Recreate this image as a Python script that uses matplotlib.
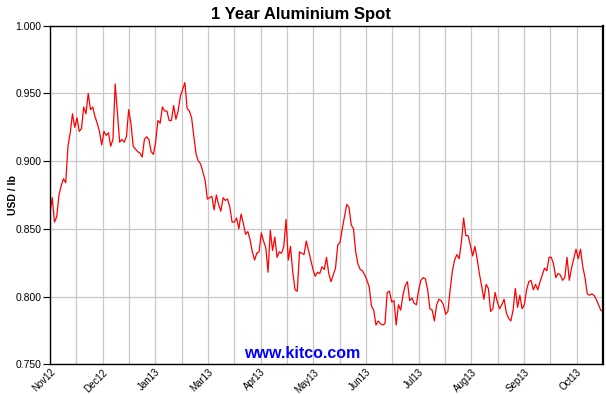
import numpy as np
import matplotlib.pyplot as plt

plt.rcParams["font.family"] = ["Liberation Sans", "DejaVu Sans"]

# daily spot price, USD/lb
prices = [
    0.862, 0.873, 0.855, 0.859, 0.875, 0.882, 0.887, 0.884, 0.911, 0.921,
    0.935, 0.925, 0.932, 0.922, 0.924, 0.940, 0.935, 0.950, 0.938, 0.940,
    0.933, 0.928, 0.922, 0.912, 0.922, 0.919, 0.921, 0.911, 0.916, 0.957,
    0.935, 0.914, 0.916, 0.914, 0.918, 0.938, 0.928, 0.911, 0.909, 0.907,
    0.906, 0.903, 0.916, 0.918, 0.916, 0.907, 0.905, 0.914, 0.930, 0.928,
    0.940, 0.937, 0.937, 0.930, 0.930, 0.941, 0.931, 0.937, 0.948, 0.953,
    0.958, 0.939, 0.937, 0.932, 0.918, 0.905, 0.900, 0.898, 0.892, 0.886,
    0.872, 0.873, 0.874, 0.864, 0.875, 0.868, 0.863, 0.873, 0.871, 0.872,
    0.866, 0.855, 0.855, 0.858, 0.850,
    0.861, 0.854, 0.846, 0.848, 0.842, 0.833, 0.827, 0.832, 0.833, 0.847,
    0.841, 0.836, 0.818, 0.849, 0.834, 0.844, 0.829, 0.833, 0.832, 0.837,
    0.857, 0.827, 0.837, 0.818, 0.805, 0.804, 0.833, 0.832, 0.831, 0.841,
    0.834, 0.827, 0.820, 0.815, 0.818, 0.817, 0.822, 0.820, 0.829,
    0.817, 0.811, 0.816, 0.821, 0.838, 0.840, 0.850, 0.859, 0.868, 0.866,
    0.853, 0.850, 0.833, 0.824, 0.820, 0.819, 0.816, 0.812, 0.807, 0.793,
    0.790, 0.779, 0.782, 0.780, 0.779, 0.780, 0.803, 0.804, 0.796, 0.797,
    0.779, 0.794, 0.790, 0.801, 0.808, 0.811, 0.797, 0.799, 0.795, 0.794,
    0.805, 0.812, 0.814, 0.813, 0.805, 0.791, 0.790, 0.782, 0.794, 0.798,
    0.797, 0.794, 0.787, 0.789, 0.805, 0.819, 0.827, 0.831, 0.828, 0.840,
    0.858, 0.845, 0.845, 0.838, 0.830, 0.837, 0.828, 0.817, 0.808, 0.798,
    0.809, 0.806, 0.789, 0.791, 0.803, 0.796, 0.791, 0.794, 0.798, 0.788,
    0.784, 0.782, 0.790, 0.806, 0.792, 0.801, 0.791, 0.794, 0.805, 0.811,
    0.812, 0.805, 0.809, 0.805, 0.811, 0.816, 0.821, 0.819, 0.829, 0.829,
    0.824, 0.814, 0.817, 0.816, 0.812, 0.814, 0.829, 0.812, 0.821, 0.828,
    0.835, 0.828, 0.835, 0.822, 0.814, 0.802, 0.801, 0.802, 0.801, 0.798,
    0.794, 0.790, 0.789,
]
month_labels = ["Nov12", "Dec12", "Jan13", "Mar13", "Apr13", "May13",
                "Jun13", "Jul13", "Aug13", "Sep13", "Oct13"]
y_ticks = [0.750, 0.800, 0.850, 0.900, 0.950, 1.000]

fig = plt.figure(figsize=(6.06, 3.94), dpi=100)
ax = fig.add_axes([50 / 606, 1 - 364.3 / 394, 553 / 606, 338.6 / 394])

x = np.arange(len(prices))
ax.plot(x, prices, color="#ff0000", linewidth=0.9)

n = len(prices) - 1
grid_x = np.linspace(0, n, 22)
ax.set_xlim(0, n)
ax.set_ylim(0.75, 1.0)
ax.set_xticks(grid_x)
ax.set_xticklabels([month_labels[i // 2] if i % 2 == 0 and i // 2 < len(month_labels) else ""
                    for i in range(len(grid_x))],
                   rotation=45, ha="right", va="top", rotation_mode="anchor", fontsize=7)
ax.set_yticks(y_ticks)
ax.set_yticklabels(["%.3f" % v for v in y_ticks], fontsize=7.5)
ax.tick_params(axis="x", length=0, pad=2)
ax.tick_params(axis="y", length=5, width=0.8, pad=1)
ax.grid(True, color="#c8c8c8", linewidth=0.9)
ax.set_axisbelow(True)
for side in ["left", "bottom", "top"]:
    ax.spines[side].set_linewidth(1.0)
ax.spines["right"].set_linewidth(1.6)

ax.set_ylabel("USD / lb", fontsize=7.5, fontweight="bold")
ax.yaxis.set_label_coords(-0.058, 0.5)
fig.text(0.497, 0.962, "1 Year Aluminium Spot", ha="center", va="center",
         fontsize=12, fontweight="bold")
fig.text(0.498, 0.104, "www.kitco.com", ha="center", va="center",
         fontsize=11.5, fontweight="bold", color="#0000ff")

plt.savefig("out.png", dpi=100)
